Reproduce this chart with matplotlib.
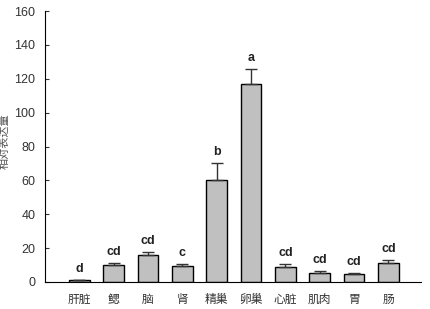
import numpy as np
import matplotlib.pyplot as plt

tissues = ['肝脏', '鳃', '脑', '肾', '精巢', '卵巢', '心脏', '肌肉', '胃', '肠']
values = [1.0, 10.0, 16.0, 9.5, 60.0, 117.0, 9.0, 5.5, 4.5, 11.5]
errors = [0.4, 1.3, 1.6, 1.1, 10.5, 8.7, 1.6, 1.0, 1.0, 1.3]
letters = ['d', 'cd', 'cd', 'c', 'b', 'a', 'cd', 'cd', 'cd', 'cd']

plt.rcParams['font.family'] = ['Liberation Sans', 'Noto Sans CJK SC']

fig = plt.figure(figsize=(4.31, 3.09), dpi=100)
ax = fig.add_axes([45/431, 27/309, 376/431, 271/309])

x = np.arange(len(tissues))
# only the upper half of the error bar is shown
ax.bar(x, values, width=0.6, color='#c0c0c0', edgecolor='black', linewidth=1.0,
       yerr=[np.zeros(len(errors)), errors],
       error_kw=dict(ecolor='#333333', elinewidth=1.0, capsize=4, capthick=1.0))

for i in range(len(x)):
    ax.text(x[i], values[i] + errors[i] + 3, letters[i], ha='center', va='bottom',
            fontsize=9, fontweight='bold', color='#222222')

ax.set_xlim(-1, 9.95)
ax.set_ylim(0, 160)
ax.set_yticks(range(0, 161, 20))
ax.set_xticks(x)
ax.set_xticklabels(tissues, family=['Noto Sans CJK SC'], fontsize=8.5, color='#333333')
ax.tick_params(axis='x', length=0, pad=8)
ax.tick_params(axis='y', direction='in', length=3, pad=7, labelsize=9, colors='#333333')
ax.set_ylabel('相对表达量', family=['Noto Sans CJK SC'], fontsize=8, color='#555555')
ax.yaxis.set_label_coords(-0.093, 0.52)

ax.spines['top'].set_visible(False)
ax.spines['right'].set_visible(False)

fig.savefig('out.png', dpi=100)
